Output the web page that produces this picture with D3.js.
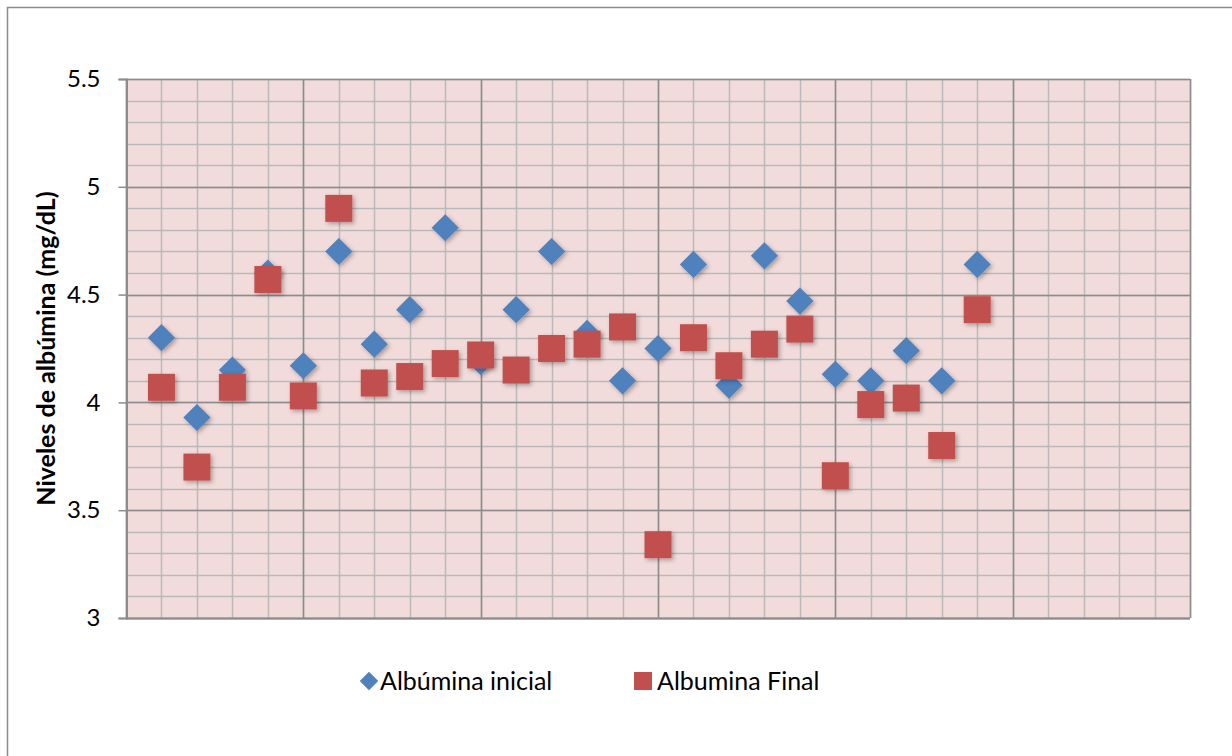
<!DOCTYPE html>
<html><head><meta charset="utf-8">
<script src="https://cdn.jsdelivr.net/npm/d3@7"></script>
<style>body{margin:0;background:#fff}svg{display:block}text{font-family:Lato,"Open Sans",sans-serif}</style>
</head><body>
<svg id="c" width="1232" height="756"></svg>
<script>
const patients = d3.range(1, 25);
const albuminaInicial = [4.30,3.93,4.15,4.60,4.17,4.70,4.27,4.43,4.81,4.19,4.43,4.70,4.32,4.10,4.25,4.64,4.08,4.68,4.47,4.13,4.10,4.24,4.10,4.64];
const albuminaFinal   = [4.07,3.70,4.07,4.57,4.03,4.90,4.09,4.12,4.18,4.22,4.15,4.25,4.27,4.35,3.34,4.30,4.17,4.27,4.34,3.66,3.99,4.02,3.80,4.43];
const yTicks = [3, 3.5, 4, 4.5, 5, 5.5];
const seriesNames = ["Albúmina inicial", "Albumina Final"];

const svg = d3.select("#c");
const L = 126, R = 1190, T = 79, B = 618;
const x = d3.scaleLinear().domain([0, 30]).range([L, R]);
const y = d3.scaleLinear().domain([3, 5.5]).range([B, T]);

const defs = svg.append("defs");
const f = defs.append("filter").attr("id","sh").attr("x","-30%").attr("y","-30%").attr("width","170%").attr("height","170%");
f.append("feDropShadow").attr("dx",2).attr("dy",2).attr("stdDeviation",2).attr("flood-color","#000").attr("flood-opacity",0.3);

// outer border
svg.append("rect").attr("x",7.5).attr("y",7.5).attr("width",1240).attr("height",760)
  .attr("fill","none").attr("stroke","#8c8c8c").attr("stroke-width",1.5);

// plot background
svg.append("rect").attr("x",L).attr("y",T).attr("width",R-L).attr("height",B-T).attr("fill","#f2dcdb");

// minor grid
const minorY = d3.range(30, 56).map(d => d/10);
svg.append("g").selectAll("line").data(minorY).join("line")
  .attr("x1",L).attr("x2",R).attr("y1",d=>Math.round(y(d))+0.5).attr("y2",d=>Math.round(y(d))+0.5)
  .attr("stroke","#b9b9b9").attr("stroke-width",1.5);
svg.append("g").selectAll("line").data(d3.range(0,31)).join("line")
  .attr("y1",T).attr("y2",B).attr("x1",d=>Math.round(x(d))+0.5).attr("x2",d=>Math.round(x(d))+0.5)
  .attr("stroke","#b9b9b9").attr("stroke-width",1.5);
// major grid
svg.append("g").selectAll("line").data(yTicks).join("line")
  .attr("x1",L).attr("x2",R).attr("y1",d=>Math.round(y(d))+0.5).attr("y2",d=>Math.round(y(d))+0.5)
  .attr("stroke","#8c8c8c").attr("stroke-width",1.5);
svg.append("g").selectAll("line").data(d3.range(0,31,5)).join("line")
  .attr("y1",T).attr("y2",B).attr("x1",d=>Math.round(x(d))+0.5).attr("x2",d=>Math.round(x(d))+0.5)
  .attr("stroke","#8c8c8c").attr("stroke-width",1.5);

// y axis
const ya = svg.append("g").attr("transform",`translate(${L+0.5},0)`)
  .call(d3.axisLeft(y).tickValues(yTicks).tickFormat(d3.format("")).tickSize(8).tickPadding(18));
ya.select(".domain").attr("stroke","#8c8c8c").attr("stroke-width",2);
ya.selectAll(".tick line").attr("stroke","#8c8c8c").attr("stroke-width",1.5);
ya.selectAll("text").attr("font-size",24).attr("fill","#000").style("font-family","Lato,'Open Sans',sans-serif");
// x axis baseline
svg.append("line").attr("x1",L).attr("x2",R).attr("y1",B+0.5).attr("y2",B+0.5).attr("stroke","#8c8c8c").attr("stroke-width",2);

// axis title
svg.append("text").attr("transform",`translate(55,${(T+B)/2}) rotate(-90)`)
  .attr("text-anchor","middle").attr("font-size",25).attr("font-weight","bold").text("Niveles de albúmina (mg/dL)");

const blue = "#4f81bd", red = "#c0504d";
const sq = 27;

svg.append("g").attr("filter","url(#sh)").selectAll("path").data(albuminaInicial).join("path")
  .attr("d", d3.symbol().type(d3.symbolSquare).size(370))
  .attr("transform",(d,i)=>`translate(${x(patients[i])},${y(d)}) rotate(45)`)
  .attr("fill",blue);

svg.append("g").attr("filter","url(#sh)").selectAll("rect").data(albuminaFinal).join("rect")
  .attr("x",(d,i)=>x(patients[i])-sq/2).attr("y",d=>y(d)-sq/2).attr("width",sq).attr("height",sq)
  .attr("fill",red);

// legend
const lg = svg.append("g");
lg.append("path").attr("d", d3.symbol().type(d3.symbolSquare).size(170)).attr("transform","translate(369,681) rotate(45)").attr("fill",blue);
lg.append("text").attr("x",380).attr("y",690).attr("font-size",25).text(seriesNames[0]);
lg.append("rect").attr("x",634).attr("y",672).attr("width",18).attr("height",18).attr("fill",red);
lg.append("text").attr("x",657).attr("y",690).attr("font-size",25).text(seriesNames[1]);
</script>
</body></html>
